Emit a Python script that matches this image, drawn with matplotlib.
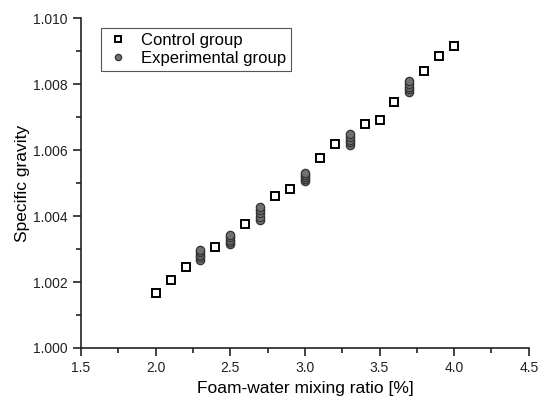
import matplotlib.pyplot as plt

plt.rcParams['font.family'] = ['Liberation Sans', 'DejaVu Sans']

ctrl_x = [2.0, 2.1, 2.2, 2.4, 2.6, 2.8, 2.9, 3.1, 3.2, 3.4, 3.5, 3.6, 3.8, 3.9, 4.0]
ctrl_y = [1.00167, 1.00206, 1.00245, 1.00306, 1.00376, 1.00460, 1.00481, 1.00575,
          1.00618, 1.00679, 1.00691, 1.00747, 1.00839, 1.00885, 1.00915]

exp_x = [2.3] * 5 + [2.5] * 5 + [2.7] * 5 + [3.0] * 5 + [3.3] * 5 + [3.7] * 5
exp_y = [1.00267, 1.00275, 1.00283, 1.00290, 1.00297,
         1.00315, 1.00322, 1.00328, 1.00335, 1.00342,
         1.00388, 1.00398, 1.00408, 1.00418, 1.00427,
         1.00506, 1.00512, 1.00518, 1.00524, 1.00530,
         1.00615, 1.00624, 1.00632, 1.00640, 1.00648,
         1.00776, 1.00784, 1.00792, 1.00800, 1.00809]

fig = plt.figure(figsize=(5.44, 4.03), dpi=100)
ax = fig.add_axes([0.149, 0.1365, 0.823, 0.8185])

ax.plot(ctrl_x, ctrl_y, 's', ms=5.5, mfc='white', mec='black', mew=1.4, ls='none',
        label='Control group')
ax.plot(exp_x, exp_y, 'o', ms=6, mfc='#707070', mec='#333333', mew=0.9, ls='none',
        label='Experimental group')

ax.set_xlim(1.5, 4.5)
ax.set_ylim(1.000, 1.010)
ax.set_xticks([1.5, 2.0, 2.5, 3.0, 3.5, 4.0, 4.5])
ax.set_xticks([1.75, 2.25, 2.75, 3.25, 3.75, 4.25], minor=True)
ax.set_yticks([1.000, 1.002, 1.004, 1.006, 1.008, 1.010])
ax.set_yticks([1.001, 1.003, 1.005, 1.007, 1.009], minor=True)
ax.set_xticklabels(['1.5', '2.0', '2.5', '3.0', '3.5', '4.0', '4.5'])
ax.set_yticklabels(['1.000', '1.002', '1.004', '1.006', '1.008', '1.010'])

for s in ['top', 'right']:
    ax.spines[s].set_visible(False)
for s in ['left', 'bottom']:
    ax.spines[s].set_color('#222222')
    ax.spines[s].set_linewidth(1.2)
ax.tick_params(which='major', direction='out', length=6, width=1.2, colors='#222222',
               labelsize=10, labelcolor='#222222')
ax.tick_params(which='minor', direction='out', length=3.5, width=1.2, colors='#222222')

ax.set_xlabel('Foam-water mixing ratio [%]', fontsize=12.5, labelpad=4)
ax.set_ylabel('Specific gravity', fontsize=12.5, labelpad=2)

leg = ax.legend(loc='upper left', bbox_to_anchor=(0.025, 0.995), fontsize=12,
                fancybox=False, framealpha=1, edgecolor='#555555', borderpad=0.3,
                handletextpad=0.6, labelspacing=0.15, handlelength=1.5,
                markerscale=0.75)
leg.get_frame().set_linewidth(0.8)

fig.savefig('out.png', dpi=100)
